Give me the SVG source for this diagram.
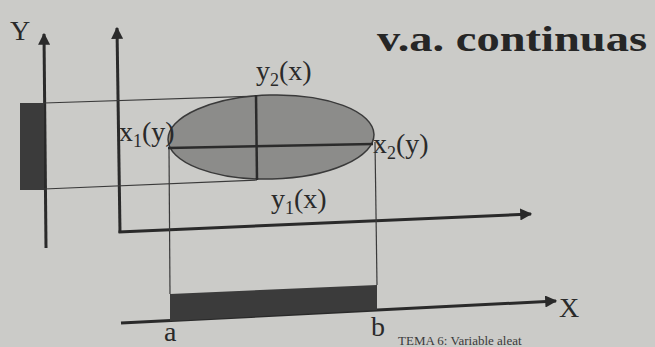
<svg xmlns="http://www.w3.org/2000/svg" width="655" height="347" viewBox="0 0 655 347">
<defs>
<style>
.ln{stroke:#2b2b2b;fill:none}
.thin{stroke:#3a3a3a;stroke-width:1.2;fill:none}
.ax{stroke:#2a2a2a;stroke-width:3;fill:none}
.lbl{font-family:"Liberation Serif",serif;font-size:28px;fill:#2a2a2a}
.dark{fill:#3b3b3b}
</style>
<marker id="ah" viewBox="0 0 10 10" refX="9" refY="5" markerWidth="4" markerHeight="4" orient="auto" markerUnits="strokeWidth">
<path d="M0,0 L10,5 L0,10 Z" fill="#2a2a2a"/>
</marker>
</defs>
<rect width="655" height="347" fill="#cbcbc8"/>
<g id="connectors">
<line class="ax" x1="46" y1="248" x2="44" y2="34" marker-end="url(#ah)"/>
<line class="ax" x1="120" y1="233" x2="117" y2="28" marker-end="url(#ah)"/>
<line class="ax" x1="118.5" y1="232" x2="531" y2="214" marker-end="url(#ah)"/>
<line class="ax" x1="121" y1="323" x2="556" y2="301" marker-end="url(#ah)"/>
<line class="thin" x1="44" y1="103" x2="258" y2="96"/>
<line class="thin" x1="44" y1="189" x2="257" y2="180"/>
<line class="thin" x1="169" y1="148" x2="170" y2="294"/>
<line class="thin" x1="375" y1="142" x2="377" y2="285"/>
</g>
<g id="ellipse">
<ellipse cx="271" cy="137" rx="103" ry="42" transform="rotate(-1.5 271 137)" fill="#8c8c8a" stroke="#3a3a3a" stroke-width="1.5"/>
<line class="ln" stroke-width="2.5" x1="168" y1="148" x2="373" y2="144"/>
<line class="ln" stroke-width="2.5" x1="256" y1="95" x2="257" y2="180"/>
</g>
<g id="y-interval">
<rect class="dark" x="20" y="103" width="24" height="87"/>
</g>
<g id="x-interval">
<polygon class="dark" points="170,294 377,285 377,310 170,321"/>
</g>
<g id="labels">
<text class="lbl" x="10" y="40">Y</text>
<text class="lbl" x="559" y="317">X</text>
<text class="lbl" x="164" y="341">a</text>
<text class="lbl" x="371" y="336">b</text>
<text class="lbl" x="256" y="80">y<tspan font-size="18" dy="6">2</tspan><tspan dy="-6">(x)</tspan></text>
<text class="lbl" x="119" y="141">x<tspan font-size="18" dy="6">1</tspan><tspan dy="-6">(y)</tspan></text>
<text class="lbl" x="373" y="153">x<tspan font-size="18" dy="6">2</tspan><tspan dy="-6">(y)</tspan></text>
<text class="lbl" x="271" y="208">y<tspan font-size="18" dy="6">1</tspan><tspan dy="-6">(x)</tspan></text>
<text x="377" y="51" font-family="Liberation Serif,serif" font-weight="bold" font-size="36" fill="#262626" textLength="270" lengthAdjust="spacingAndGlyphs">v.a. continuas</text>
<text x="398" y="345" font-family="Liberation Serif,serif" font-size="13" fill="#3a3a3a">TEMA 6: Variable aleat</text>
</g>
</svg>
